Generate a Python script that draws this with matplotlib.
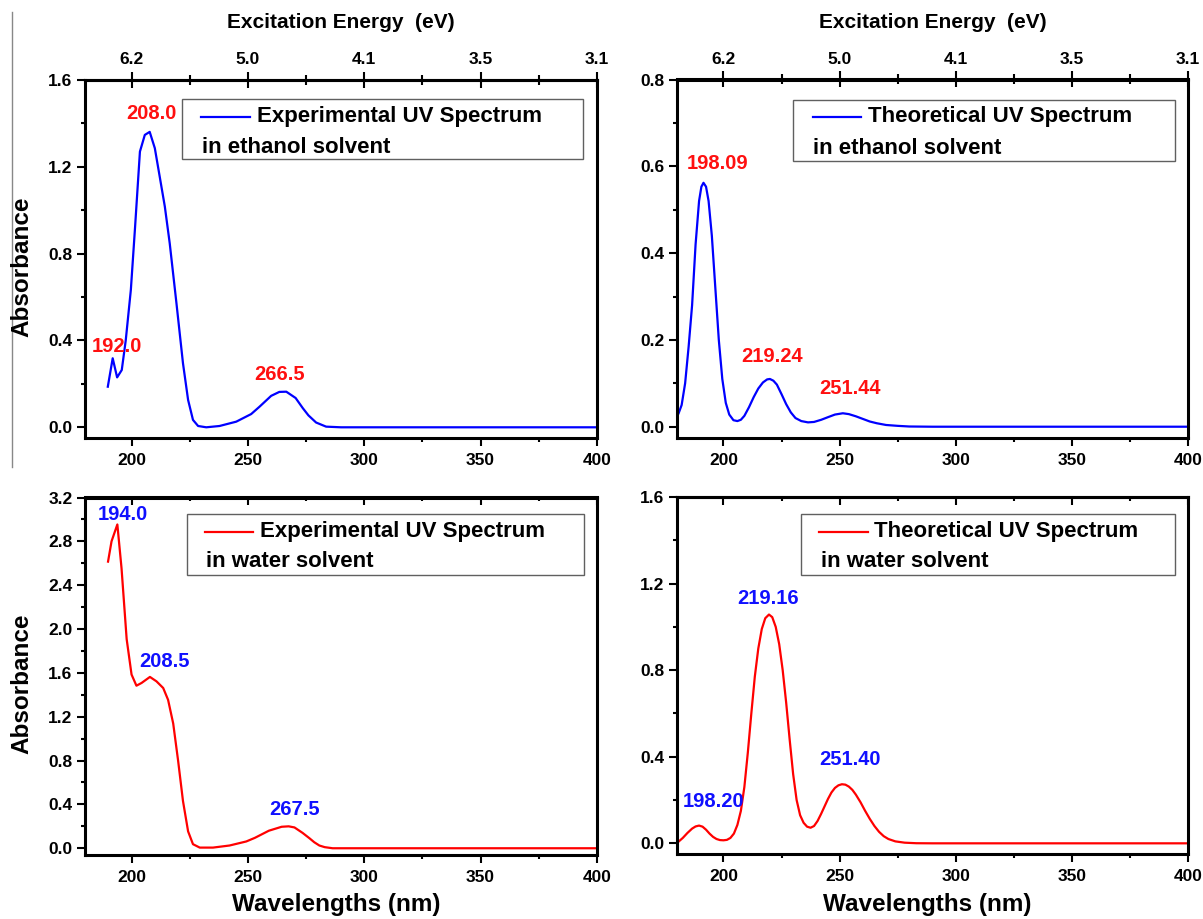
import matplotlib
matplotlib.use("Agg")
import matplotlib.pyplot as plt
from matplotlib.lines import Line2D
from matplotlib.patches import Rectangle
from matplotlib.ticker import MultipleLocator, FormatStrFormatter

plt.rcParams['font.family'] = ['Liberation Sans', 'DejaVu Sans']
plt.rcParams['font.weight'] = 'bold'

# ---- data ----
# experimental, ethanol
wl_exp_eth = [189.8, 191.9, 193.8, 195.8, 197.5, 199.7, 201.5, 203.6, 205.7, 207.8,
              210.0, 212.1, 214.3, 216.4, 219.3, 222.1, 224.3, 226.4, 228.6, 232.1,
              237.8, 245.0, 251.4, 255.0, 260.0, 263.5, 266.5, 270.5, 273.6, 276.0,
              279.3, 283.6, 290, 300, 350, 400]
ab_exp_eth = [0.187, 0.318, 0.230, 0.264, 0.40, 0.633, 0.92, 1.27, 1.347, 1.361,
              1.286, 1.155, 1.017, 0.848, 0.571, 0.295, 0.126, 0.034, 0.006, 0.0,
              0.006, 0.026, 0.061, 0.095, 0.145, 0.163, 0.164, 0.135, 0.088, 0.055,
              0.022, 0.003, 0.0, 0.0, 0.0, 0.0]

# theoretical, ethanol
wl_th_eth = [180.7, 182.0, 183.5, 185.0, 186.5, 188.0, 189.5, 190.5, 191.4, 192.5,
             193.6, 195.0, 196.5, 198.0, 199.5, 201.0, 202.5, 204.3, 206.0, 207.5,
             209.0, 211.0, 213.0, 215.0, 217.0, 218.8, 220.0, 221.5, 223.0, 225.0,
             227.0, 229.0, 231.0, 233.5, 236.4, 239.0, 242.1, 245.0, 248.0, 251.4,
             254.0, 257.0, 260.0, 263.0, 266.0, 270.0, 275.0, 280.0, 290, 350, 400]
ab_th_eth = [0.031, 0.050, 0.100, 0.184, 0.280, 0.420, 0.520, 0.553, 0.562, 0.553,
             0.520, 0.440, 0.320, 0.200, 0.110, 0.055, 0.028, 0.015, 0.013, 0.016,
             0.025, 0.045, 0.068, 0.088, 0.102, 0.109, 0.110, 0.106, 0.097, 0.075,
             0.052, 0.033, 0.020, 0.013, 0.010, 0.011, 0.016, 0.022, 0.028, 0.031,
             0.029, 0.024, 0.018, 0.012, 0.008, 0.004, 0.002, 0.0005, 0.0, 0.0, 0.0]

# experimental, water
wl_exp_wat = [189.9, 191.4, 193.9, 195.7, 197.9, 200.0, 202.1, 204.3, 207.9, 210.7,
              213.6, 215.7, 217.9, 220.0, 222.1, 224.3, 226.4, 229.3, 235.0, 242.1,
              249.3, 253.0, 259.0, 264.5, 267.5, 270.0, 273.5, 276.4, 278.5, 280.7,
              283.0, 286.4, 300, 350, 400]
ab_exp_wat = [2.615, 2.80, 2.954, 2.554, 1.908, 1.585, 1.483, 1.508, 1.563, 1.523,
              1.462, 1.354, 1.138, 0.80, 0.431, 0.154, 0.037, 0.006, 0.006, 0.025,
              0.062, 0.095, 0.160, 0.196, 0.200, 0.190, 0.140, 0.092, 0.055, 0.025,
              0.010, 0.0, 0.0, 0.0, 0.0]

# theoretical, water
wl_th_wat = [180.7, 182.5, 184.5, 186.5, 188.0, 189.5, 191.0, 192.5, 194.0, 195.5,
             197.0, 198.5, 200.0, 201.5, 203.0, 204.5, 206.0, 207.5, 209.0, 210.5,
             212.0, 213.5, 215.0, 216.5, 218.0, 219.6, 221.0, 222.5, 224.0, 225.5,
             227.0, 228.5, 230.0, 231.5, 233.0, 234.5, 236.0, 237.5, 239.0, 240.5,
             242.0, 243.5, 245.0, 246.5, 248.0, 249.5, 251.0, 252.5, 254.0, 255.5,
             257.0, 259.0, 261.0, 263.0, 265.0, 267.0, 269.0, 271.0, 274.0, 278.0,
             283.0, 290, 350, 400]
ab_th_wat = [0.008, 0.025, 0.048, 0.068, 0.078, 0.082, 0.077, 0.063, 0.045, 0.030,
             0.020, 0.015, 0.014, 0.016, 0.025, 0.045, 0.085, 0.150, 0.260, 0.420,
             0.600, 0.770, 0.900, 0.990, 1.040, 1.057, 1.045, 1.000, 0.920, 0.800,
             0.650, 0.480, 0.320, 0.200, 0.130, 0.095, 0.077, 0.072, 0.080, 0.103,
             0.135, 0.170, 0.205, 0.235, 0.256, 0.268, 0.273, 0.271, 0.262, 0.247,
             0.225, 0.190, 0.150, 0.113, 0.080, 0.053, 0.033, 0.020, 0.009, 0.003,
             0.0005, 0.0, 0.0, 0.0]

wl_ticks = [200, 250, 300, 350, 400]
ev_labels = ['6.2', '5.0', '4.1', '3.5', '3.1']

peaks_exp_eth = [(193.6, 0.372, '192.0'), (208.6, 1.447, '208.0'), (263.6, 0.241, '266.5')]
peaks_th_eth = [(197.4, 0.607, '198.09'), (221.0, 0.161, '219.24'), (254.6, 0.088, '251.44')]
peaks_exp_wat = [(196.4, 3.046, '194.0'), (214.0, 1.708, '208.5'), (270.0, 0.354, '267.5')]
peaks_th_wat = [(195.7, 0.192, '198.20'), (219.0, 1.131, '219.16'), (254.3, 0.385, '251.40')]

W, H = 1203, 919


def px(x, y):
    return x / W, 1 - y / H


def rect(l, t, r, b):
    return [l / W, 1 - b / H, (r - l) / W, (b - t) / H]


fig = plt.figure(figsize=(W / 100, H / 100), dpi=100)

panels = [
    dict(wl=wl_exp_eth, ab=ab_exp_eth, c='#0000ff', pc='#ff1010', peaks=peaks_exp_eth,
         box=(85, 80, 597, 437.5), ylim=(-0.047, 1.6), ymaj=0.4, ymin=0.2, top=True, left=True,
         name='Experimental UV Spectrum', sub='in ethanol solvent',
         leg=(181.7, 99, 582.5, 159.3, 201, 250, 116.7, 257, 202.5, 147.3)),
    dict(wl=wl_th_eth, ab=ab_th_eth, c='#0000ff', pc='#ff1010', peaks=peaks_th_eth,
         box=(677, 79.5, 1188, 438), ylim=(-0.026, 0.8), ymaj=0.2, ymin=0.1, top=True, left=False,
         name='Theoretical UV Spectrum', sub='in ethanol solvent',
         leg=(793.3, 100, 1175, 161, 813, 861, 116.7, 868.3, 813.3, 148.3)),
    dict(wl=wl_exp_wat, ab=ab_exp_wat, c='#ff0000', pc='#1010ff', peaks=peaks_exp_wat,
         box=(85, 497.5, 597, 854.5), ylim=(-0.057, 3.2), ymaj=0.4, ymin=0.2, top=False, left=True,
         name='Experimental UV Spectrum', sub='in water solvent',
         leg=(186.7, 514, 583.5, 575, 205, 253.3, 531.7, 260, 206, 561.7)),
    dict(wl=wl_th_wat, ab=ab_th_wat, c='#ff0000', pc='#1010ff', peaks=peaks_th_wat,
         box=(677, 497, 1188, 853.5), ylim=(-0.047, 1.6), ymaj=0.4, ymin=0.2, top=False, left=False,
         name='Theoretical UV Spectrum', sub='in water solvent',
         leg=(800.7, 514, 1175, 575, 819.3, 868.3, 531.7, 874, 821, 561.7)),
]

for p in panels:
    ax = fig.add_axes(rect(*p['box']))
    ax.plot(p['wl'], p['ab'], color=p['c'], lw=1.6)
    ax.set_xlim(180, 400)
    ax.set_ylim(*p['ylim'])
    ax.set_xticks(wl_ticks)
    ax.xaxis.set_minor_locator(MultipleLocator(25))
    ax.yaxis.set_major_locator(MultipleLocator(p['ymaj']))
    ax.yaxis.set_minor_locator(MultipleLocator(p['ymin']))
    ax.yaxis.set_major_formatter(FormatStrFormatter('%.1f'))
    ax.tick_params(which='both', direction='out', width=1.5, top=False, right=False,
                   labelsize=12.5, pad=3)
    ax.tick_params(which='major', length=6)
    ax.tick_params(which='minor', length=3)
    ax.tick_params(axis='x', pad=5)
    for s in ax.spines.values():
        s.set_linewidth(2.2)

    sec = ax.secondary_xaxis('top')
    sec.set_xticks(wl_ticks)
    sec.xaxis.set_minor_locator(MultipleLocator(25))
    sec.spines['top'].set_linewidth(2.2)
    l, t, r, b = p['box']
    if p['top']:
        sec.set_xticklabels(ev_labels)
        sec.tick_params(which='major', direction='inout', length=12, width=1.5,
                        labelsize=12.5, pad=3)
        sec.tick_params(which='minor', direction='inout', length=7, width=1.5)
        fig.text(*px((l + r) / 2, 23), 'Excitation Energy  (eV)', fontsize=15,
                 fontweight='bold', ha='center', va='center')
    else:
        sec.set_xticklabels([])
        sec.tick_params(which='major', direction='in', length=6, width=1.5)
        sec.tick_params(which='minor', direction='in', length=3, width=1.5)
        fig.text(*px((l + r) / 2 - 5, 905), 'Wavelengths (nm)', fontsize=17.5,
                 fontweight='bold', ha='center', va='center')
    if p['left']:
        fig.text(*px(22, (t + b) / 2 + 8), 'Absorbance', fontsize=17.5, fontweight='bold',
                 rotation=90, ha='center', va='center')

    for x, y, txt in p['peaks']:
        ax.text(x, y, txt, color=p['pc'], fontsize=14.5, fontweight='bold',
                ha='center', va='center')

    # legend box drawn as in the original figure
    bl, bt, br, bb, l0, l1, ly, tx, sx, sy = p['leg']
    fig.add_artist(Rectangle(px(bl, bb), (br - bl) / W, (bb - bt) / H,
                             transform=fig.transFigure, fill=False, ec='#606060', lw=1.0))
    fig.add_artist(Line2D([l0 / W, l1 / W], [1 - ly / H, 1 - ly / H],
                          transform=fig.transFigure, color=p['c'], lw=1.6))
    fig.text(*px(tx, ly), p['name'], fontsize=16, fontweight='bold', va='center', ha='left')
    fig.text(*px(sx, sy), p['sub'], fontsize=16, fontweight='bold', va='center', ha='left')

# thin grey rule at the left edge of the original page
fig.add_artist(Line2D([12 / W, 12 / W], [1 - 12 / H, 1 - 467 / H],
                      transform=fig.transFigure, color='#888888', lw=1.0))

fig.savefig('out.png', dpi=100)
